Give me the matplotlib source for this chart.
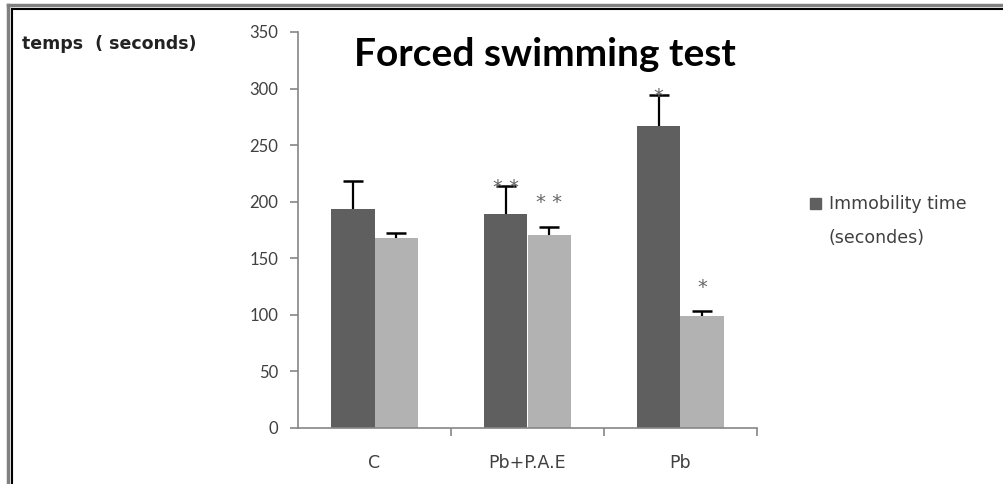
import matplotlib
matplotlib.use("Agg")
import matplotlib.pyplot as plt
import numpy as np
from matplotlib.lines import Line2D

plt.rcParams['font.family'] = ['DejaVu Sans']

groups = ['C', 'Pb+P.A.E', 'Pb']
immobility = [194, 189, 267]
immobility_err = [24, 25, 27]
second = [168, 171, 99]
second_err = [4, 7, 4]
stars_dark = ['', '* *', '*']
stars_light = ['', '* *', '*']
yticks = [0, 50, 100, 150, 200, 250, 300, 350]

dark = '#5f5f5f'
light = '#b2b2b2'
axis_grey = '#868686'
text_grey = '#404040'

fig = plt.figure(figsize=(10.04, 4.84), dpi=100)
ax = fig.add_axes([298/1004, 1 - 428/484, 459/1004, 396/484])

x = np.arange(len(groups))
w = 0.287
ax.bar(x - w/2, immobility, w, color=dark)
ax.bar(x + w/2, second, w, color=light)

# upper-only error bars
for xs, vals, errs in [(x - w/2, immobility, immobility_err), (x + w/2, second, second_err)]:
    tops = np.array(vals) + np.array(errs)
    ax.vlines(xs, vals, tops, color='black', lw=1.6)
    ax.plot(xs, tops, ls='none', marker='_', markersize=14, mew=1.8, color='black')

# significance marks
for i in range(len(groups)):
    if stars_dark[i]:
        ax.text(x[i] - w/2, immobility[i] + immobility_err[i] - 1, stars_dark[i],
                ha='center', va='center', fontsize=14, color='#666666')
    if stars_light[i]:
        ax.text(x[i] + w/2, second[i] + second_err[i] + 21, stars_light[i],
                ha='center', va='center', fontsize=14, color='#666666')

ax.set_xlim(-0.5, 2.5)
ax.set_ylim(0, 350)
ax.set_yticks(yticks)
ax.set_xticks(x)
ax.set_xticklabels(groups)
ax.set_xticks([0.5, 1.5, 2.5], minor=True)
ax.tick_params(axis='x', which='major', length=0, pad=19, labelsize=12.5, labelcolor=text_grey)
ax.tick_params(axis='x', which='minor', length=6, color=axis_grey, width=1.2)
ax.tick_params(axis='y', length=6, color=axis_grey, width=1.2, pad=8,
               labelsize=12, labelcolor=text_grey)
for lab in ax.get_yticklabels():
    lab.set_family(['Lato', 'DejaVu Sans'])
for s in ['top', 'right']:
    ax.spines[s].set_visible(False)
for s in ['left', 'bottom']:
    ax.spines[s].set_color(axis_grey)
    ax.spines[s].set_linewidth(1.2)

fig.text(545/1004, 1 - 54/484, 'Forced swimming test', ha='center', va='center',
         fontsize=28, fontweight='bold', color='black', family=['Lato', 'DejaVu Sans'])
fig.text(22/1004, 1 - 44/484, 'temps  ( seconds)', ha='left', va='center',
         fontsize=12.5, fontweight='bold', color='#222222')

# legend (dark series only)
fig.patches.append(plt.Rectangle((810/1004, 1 - 209/484), 11/1004, 11/484,
                                 transform=fig.transFigure, color=dark))
fig.text(829/1004, 1 - 204/484, 'Immobility time', ha='left', va='center',
         fontsize=12.5, color=text_grey)
fig.text(829/1004, 1 - 238/484, '(secondes)', ha='left', va='center',
         fontsize=12.5, color=text_grey)

# double frame
fig.add_artist(Line2D([8/1004, 8/1004], [0, 1 - 5/484], color='#808080', lw=2.5, transform=fig.transFigure))
fig.add_artist(Line2D([8/1004, 1], [1 - 5/484, 1 - 5/484], color='#808080', lw=2.5, transform=fig.transFigure))
fig.add_artist(Line2D([12/1004, 12/1004], [0, 1 - 9/484], color='black', lw=1.5, transform=fig.transFigure))
fig.add_artist(Line2D([12/1004, 1], [1 - 9/484, 1 - 9/484], color='black', lw=1.5, transform=fig.transFigure))

fig.savefig('out.png', dpi=100)
